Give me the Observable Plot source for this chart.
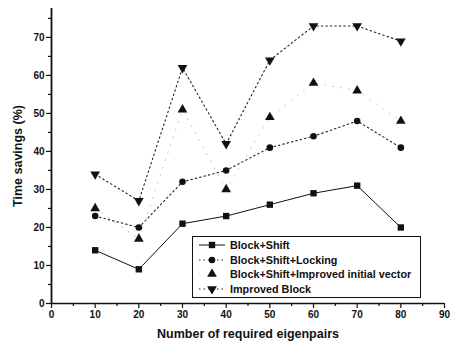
<!DOCTYPE html>
<html>
<head>
<meta charset="utf-8">
<script src="https://cdn.jsdelivr.net/npm/d3@7"></script>
<script src="https://cdn.jsdelivr.net/npm/@observablehq/plot@0.6"></script>
<style>
  html, body { margin: 0; padding: 0; background: #fff; }
  #wrap { position: relative; width: 451px; height: 350px; font-family: "Liberation Sans", Arial, sans-serif; }
  #wrap svg text { font-weight: bold; fill: #111; }
  #wrap [aria-label="y-axis label"] text, #wrap [aria-label="x-axis label"] text { font-size: 12.5px; }
  #legend { position: absolute; left: 192px; top: 236px; width: 229px; height: 62px; border: 1px solid #111; background: #fff; box-sizing: border-box; padding-top: 1px; }
  .row { display: flex; align-items: center; height: 14.6px; font-weight: bold; font-size: 10.8px; color: #111; }
  .row svg { flex: none; margin-left: 6px; margin-right: 5px; }
</style>
</head>
<body>
<div id="wrap"></div>
<script>
const xValues = [10, 20, 30, 40, 50, 60, 70, 80];
const seriesNames = ["Block+Shift", "Block+Shift+Locking", "Block+Shift+Improved initial vector", "Improved Block"];
const blockShift = [14, 9, 21, 23, 26, 29, 31, 20];
const locking = [23, 20, 32, 35, 41, 44, 48, 41];
const improvedInit = [25, 17, 51, 30, 49, 58, 56, 48];
const improvedBlock = [34, 27, 62, 42, 64, 73, 73, 69];
const xTicks = [0, 10, 20, 30, 40, 50, 60, 70, 80, 90];
const xMinor = [5, 15, 25, 35, 45, 55, 65, 75, 85];
const yTicks = [0, 10, 20, 30, 40, 50, 60, 70];
const yMinor = [5, 15, 25, 35, 45, 55, 65, 75];

const triangleDown = {
  draw(context, size) {
    const sqrt3 = Math.sqrt(3);
    const y = Math.sqrt(size / (sqrt3 * 3));
    context.moveTo(0, y * 2);
    context.lineTo(-sqrt3 * y, -y);
    context.lineTo(sqrt3 * y, -y);
    context.closePath();
  }
};

const styles = [
  { stroke: "#111", dash: null, legendDash: null, width: 1, symbol: "square", r: 3.6 },
  { stroke: "#222", dash: "1.5,3", legendDash: "1.5,3", width: 1.1, symbol: "circle", r: 3.3 },
  { stroke: "#c4c4c4", dash: "1,7", legendDash: "1,30", width: 1, symbol: "triangle", r: 3.6 },
  { stroke: "#222", dash: "1.5,3", legendDash: "1.5,3", width: 1.1, symbol: triangleDown, r: 3.6 }
];

const allValues = [blockShift, locking, improvedInit, improvedBlock];
const data = [];
allValues.forEach((vals, s) => vals.forEach((v, i) => data.push({ series: seriesNames[s], s, x: xValues[i], y: v })));

const marks = [];
styles.forEach((st, s) => {
  const d = data.filter(e => e.s === s);
  marks.push(Plot.line(d, { x: "x", y: "y", stroke: st.stroke, strokeWidth: st.width, strokeDasharray: st.dash }));
});
styles.forEach((st, s) => {
  const d = data.filter(e => e.s === s);
  marks.push(Plot.dot(d, { x: "x", y: "y", symbol: () => st.symbol, r: st.r, fill: "#111", stroke: "none" }));
});

const chart = Plot.plot({
  width: 451,
  height: 350,
  marginLeft: 51,
  marginRight: 7,
  marginTop: 8,
  marginBottom: 47,
  style: { fontFamily: "Liberation Sans, Arial, sans-serif", fontSize: "10px", background: "#fff", color: "#111" },
  x: { domain: [0, 90] },
  y: { domain: [0, 77.6] },
  symbol: { type: "identity" },
  marks: [
    Plot.axisX({ ticks: xTicks, tickSize: 5, tickPadding: 2, strokeWidth: 1.2, label: "Number of required eigenpairs", labelAnchor: "center", labelArrow: "none", labelOffset: 34 }),
    Plot.axisX({ ticks: xMinor, tickSize: 3, tickFormat: () => "", label: null, strokeWidth: 1.2 }),
    Plot.axisY({ ticks: yTicks, tickSize: 5, tickPadding: 2, strokeWidth: 1.2, label: "Time savings (%)", labelAnchor: "center", labelArrow: "none", labelOffset: 38 }),
    Plot.axisY({ ticks: yMinor, tickSize: 3, tickFormat: () => "", label: null, strokeWidth: 1.2 }),
    Plot.ruleY([0], { stroke: "#111", strokeWidth: 1.5 }),
    Plot.ruleX([0], { stroke: "#111", strokeWidth: 1.8 }),
    ...marks
  ]
});

const wrap = document.getElementById("wrap");
wrap.appendChild(chart);

// Legend overlay
const legend = document.createElement("div");
legend.id = "legend";
seriesNames.forEach((name, s) => {
  const st = styles[s];
  const row = document.createElement("div");
  row.className = "row";
  const svg = d3.create("svg").attr("width", 26).attr("height", 10);
  svg.append("line").attr("x1", 0).attr("x2", 26).attr("y1", 5).attr("y2", 5)
    .attr("stroke", st.stroke).attr("stroke-width", st.width)
    .attr("stroke-dasharray", st.legendDash);
  const sym = typeof st.symbol === "string"
    ? { square: d3.symbolSquare, circle: d3.symbolCircle, triangle: d3.symbolTriangle }[st.symbol]
    : st.symbol;
  svg.append("path").attr("transform", "translate(13,5)")
    .attr("d", d3.symbol(sym, Math.PI * st.r * st.r)()).attr("fill", "#111");
  row.appendChild(svg.node());
  const span = document.createElement("span");
  span.textContent = name;
  row.appendChild(span);
  legend.appendChild(row);
});
wrap.appendChild(legend);
</script>
</body>
</html>
